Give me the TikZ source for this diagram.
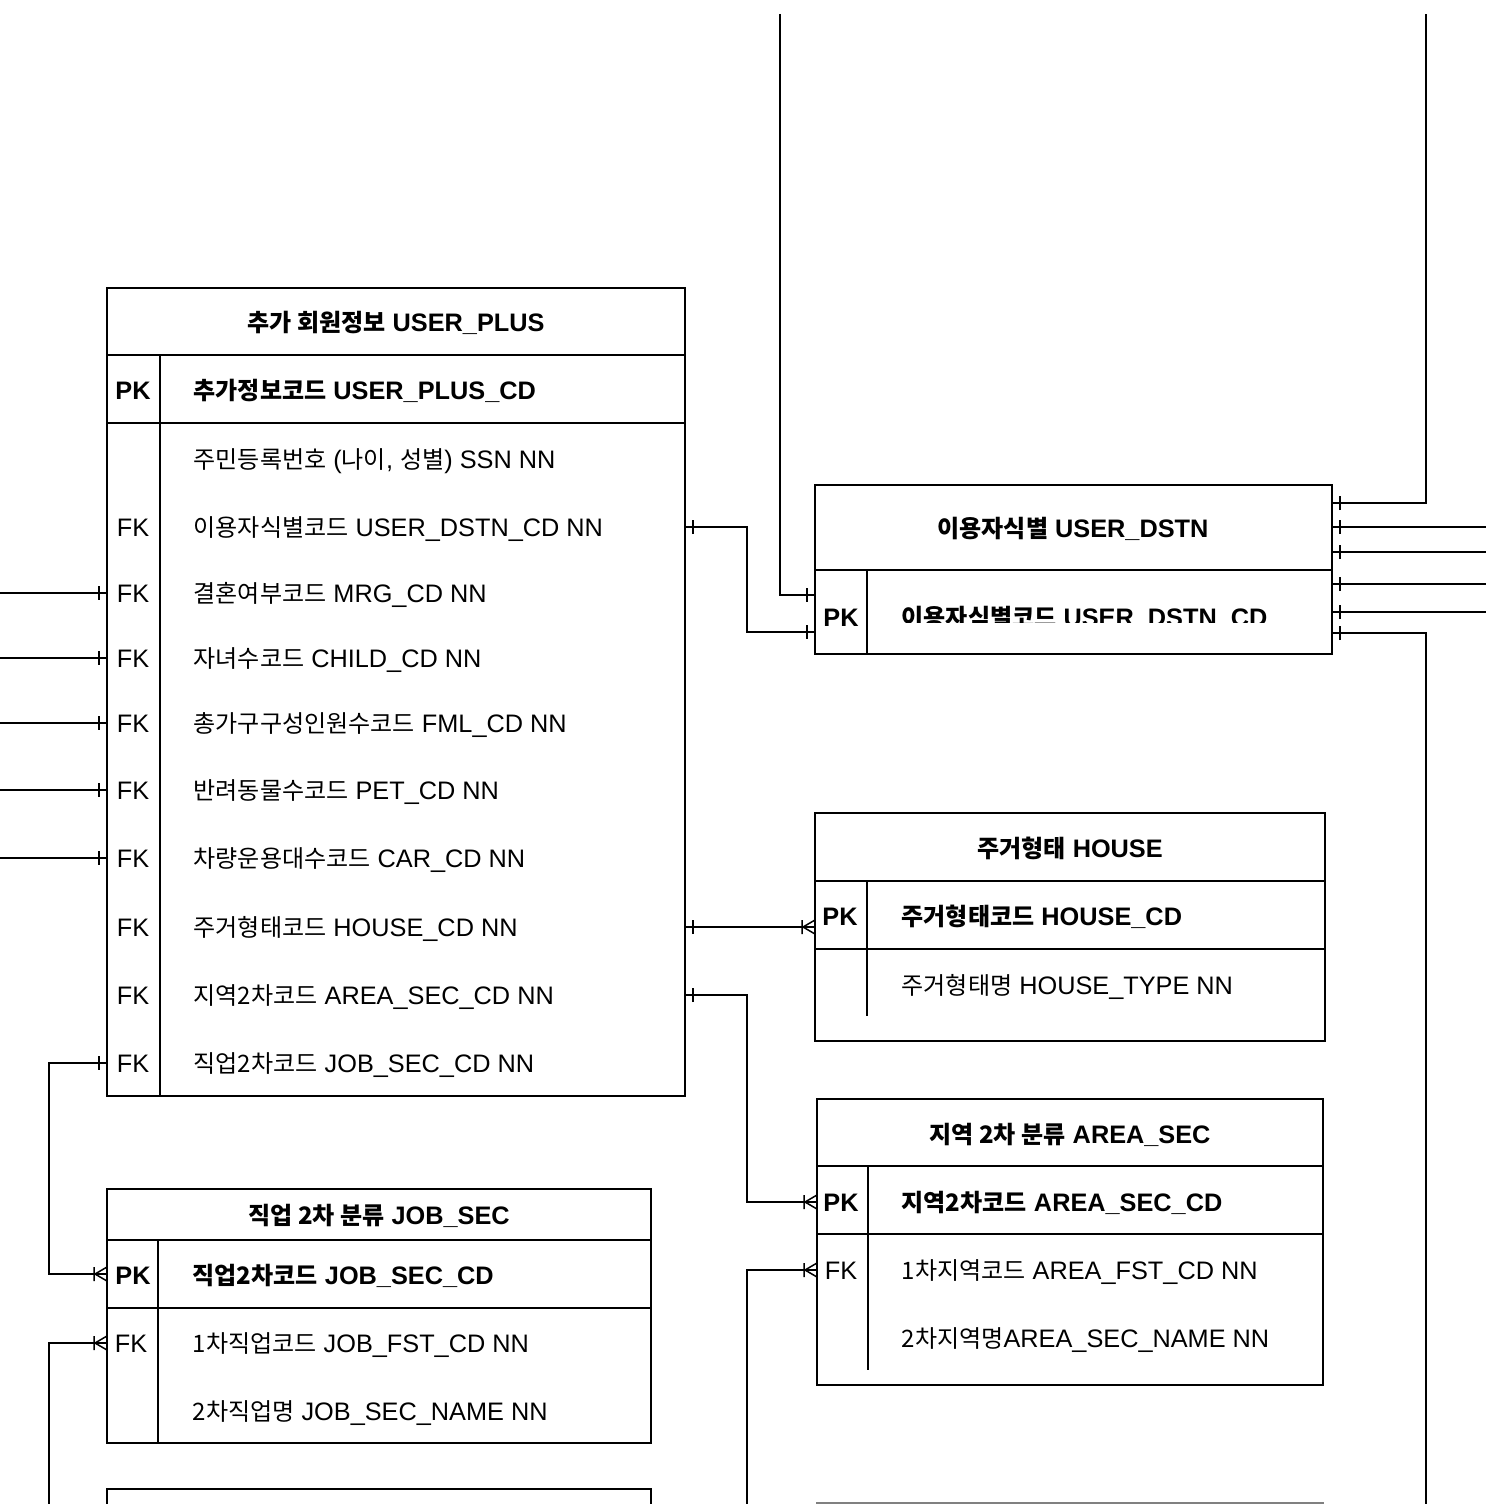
\documentclass[tikz,border=0pt]{standalone}
\usepackage{fontspec}
\setmainfont{Liberation Sans}
\newfontfamily\krfont{Noto Sans CJK KR}[Scale=0.95]
\usetikzlibrary{calc}

\begin{document}
\begin{tikzpicture}[
  x=1pt, y=-1pt,
  font=\fontsize{25.3}{29}\selectfont,
  line width=1.5pt,
  ttl/.style ={font=\fontsize{25.3}{29}\selectfont\bfseries, anchor=base, yshift=-9pt},
  key/.style ={anchor=base, yshift=-9pt},
  pkey/.style={key, font=\fontsize{25.3}{29}\selectfont\bfseries},
  fld/.style ={anchor=base west, yshift=-9pt, inner sep=0pt},
  pfld/.style={fld, font=\fontsize{25.3}{29}\selectfont\bfseries},
  one/.pic   ={\draw (-8,-7) -- (-8,7);},
  many/.pic  ={\draw (-12,0) -- (0,-7) (-12,0) -- (0,7) (-13,-7) -- (-13,7);},
]
  \useasboundingbox (0,0) rectangle (1486,1504);
  \clip (0,0) rectangle (1486,1504);

  % ---- 추가 회원정보 USER_PLUS
  \draw (107,288) rectangle (685,1096);
  \draw (107,355) -- (685,355) (107,423) -- (685,423) (160,355) -- (160,1096);
  \node[ttl]  (plus-t)   at (396,322) {{\krfont 추가 회원정보} USER\_PLUS};
  \node[pkey] (plus-pk)  at (133,390) {PK};
  \node[pfld] (plus-cd)  at (193,390) {{\krfont 추가정보코드} USER\_PLUS\_CD};
  \node[fld]  (plus-ssn) at (193,459) {{\krfont 주민등록번호} ({\krfont 나이}, {\krfont 성별}) SSN NN};
  \foreach \y/\txt/\cd [count=\i] in {
      527/이용자식별코드/USER\_DSTN\_CD NN,
      593/결혼여부코드/MRG\_CD NN,
      658/자녀수코드/CHILD\_CD NN,
      723/총가구구성인원수코드/FML\_CD NN,
      790/반려동물수코드/PET\_CD NN,
      858/차량운용대수코드/CAR\_CD NN,
      927/주거형태코드/HOUSE\_CD NN,
      995/지역2차코드/AREA\_SEC\_CD NN,
      1063/직업2차코드/JOB\_SEC\_CD NN}{
    \node[key] (plus-fk\i) at (133,\y) {FK};
    \node[fld] (plus-f\i)  at (193,\y) {{\krfont \txt} \cd};
  }

  % ---- 이용자식별 USER_DSTN
  \draw (815,485) rectangle (1332,654);
  \draw (815,570) -- (1332,570) (867,570) -- (867,654);
  \node[ttl]  (dstn-t)  at (1073,528) {{\krfont 이용자식별} USER\_DSTN};
  \node[pkey] (dstn-pk) at (841,617) {PK};
  \begin{scope}
    \clip (868,571) rectangle (1331,622);
    \node[pfld] (dstn-cd) at (901,617) {{\krfont 이용자식별코드} USER\_DSTN\_CD};
  \end{scope}

  % ---- 주거형태 HOUSE
  \draw (815,813) rectangle (1325,1041);
  \draw (815,881) -- (1325,881) (815,949) -- (1325,949) (867,881) -- (867,1016);
  \node[ttl]  (house-t)  at (1070,848) {{\krfont 주거형태} HOUSE};
  \node[pkey] (house-k)  at (840,916) {PK};
  \node[pfld] (house-cd) at (901,916) {{\krfont 주거형태코드} HOUSE\_CD};
  \node[fld]  (house-nm) at (901,985) {{\krfont 주거형태명} HOUSE\_TYPE NN};

  % ---- 지역 2차 분류 AREA_SEC
  \draw (817,1099) rectangle (1323,1385);
  \draw (817,1166) -- (1323,1166) (817,1234) -- (1323,1234) (868,1166) -- (868,1370);
  \node[ttl]  (area-t)  at (1070,1134) {{\krfont 지역 2차 분류} AREA\_SEC};
  \node[pkey] (area-k)  at (841,1202) {PK};
  \node[pfld] (area-cd) at (901,1202) {{\krfont 지역2차코드} AREA\_SEC\_CD};
  \node[key]  (area-fk) at (841,1270) {FK};
  \node[fld]  (area-f)  at (901,1270) {{\krfont 1차지역코드} AREA\_FST\_CD NN};
  \node[fld]  (area-nm) at (901,1338) {{\krfont 2차지역명}AREA\_SEC\_NAME NN};

  % ---- 직업 2차 분류 JOB_SEC
  \draw (107,1189) rectangle (651,1443);
  \draw (107,1240) -- (651,1240) (107,1308) -- (651,1308) (158,1240) -- (158,1443);
  \node[ttl]  (job-t)  at (379,1215) {{\krfont 직업 2차 분류} JOB\_SEC};
  \node[pkey] (job-k)  at (133,1275) {PK};
  \node[pfld] (job-cd) at (192,1275) {{\krfont 직업2차코드} JOB\_SEC\_CD};
  \node[key]  (job-fk) at (131,1343) {FK};
  \node[fld]  (job-f)  at (192,1343) {{\krfont 1차직업코드} JOB\_FST\_CD NN};
  \node[fld]  (job-nm) at (192,1411) {{\krfont 2차직업명} JOB\_SEC\_NAME NN};

  % tables cut by the lower edge
  \draw (107,1489) rectangle (651,1540);
  \draw[gray] (817,1503) rectangle (1323,1540);

  % ---- connector ends
  \coordinate (edgeL) at (0,0);
  \coordinate (edgeR) at (1486,0);
  \coordinate (top1) at (780,14);
  \coordinate (top2) at (1426,14);
  \coordinate (bot0) at (49,1504);
  \coordinate (bot1) at (747,1504);
  \coordinate (bot2) at (1426,1504);
  \coordinate (dstn-a) at (815,595);
  \coordinate (dstn-b) at (815,632);
  \foreach \y [count=\i] in {503,527,552,584,612,633}
    \coordinate (dstn-r\i) at (1332,\y);
  \foreach \y [count=\i] in {527,593,658,723,790,858,927,995,1063}{
    \coordinate (plus-l\i) at (107,\y);
    \coordinate (plus-r\i) at (685,\y);
  }
  \coordinate (house-pk) at (815,927);
  \coordinate (area-pk)  at (817,1202);
  \coordinate (area-fkc) at (817,1270);
  \coordinate (job-pk)   at (107,1274);
  \coordinate (job-fkc)  at (107,1343);

  % ---- connectors
  \draw (top1) |- (dstn-a) pic{one};
  \draw (plus-r1) pic[rotate=180]{one} -- ++(62,0) |- (dstn-b) pic{one};
  \draw (dstn-r1) pic[rotate=180]{one} -| (top2);
  \foreach \i in {2,...,5}
    \draw (dstn-r\i) pic[rotate=180]{one} -- (dstn-r\i -| edgeR);
  \draw (dstn-r6) pic[rotate=180]{one} -| (bot2);
  \foreach \i in {2,...,6}
    \draw (plus-l\i) pic{one} -- (plus-l\i -| edgeL);
  \draw (plus-r7) pic[rotate=180]{one} -- (house-pk) pic{many};
  \draw (plus-r8) pic[rotate=180]{one} -- ++(62,0) |- (area-pk) pic{many};
  \draw (bot1) |- (area-fkc) pic{many};
  \draw (plus-l9) pic{one} -- ++(-58,0) |- (job-pk) pic{many};
  \draw (bot0) |- (job-fkc) pic{many};
\end{tikzpicture}
\end{document}
